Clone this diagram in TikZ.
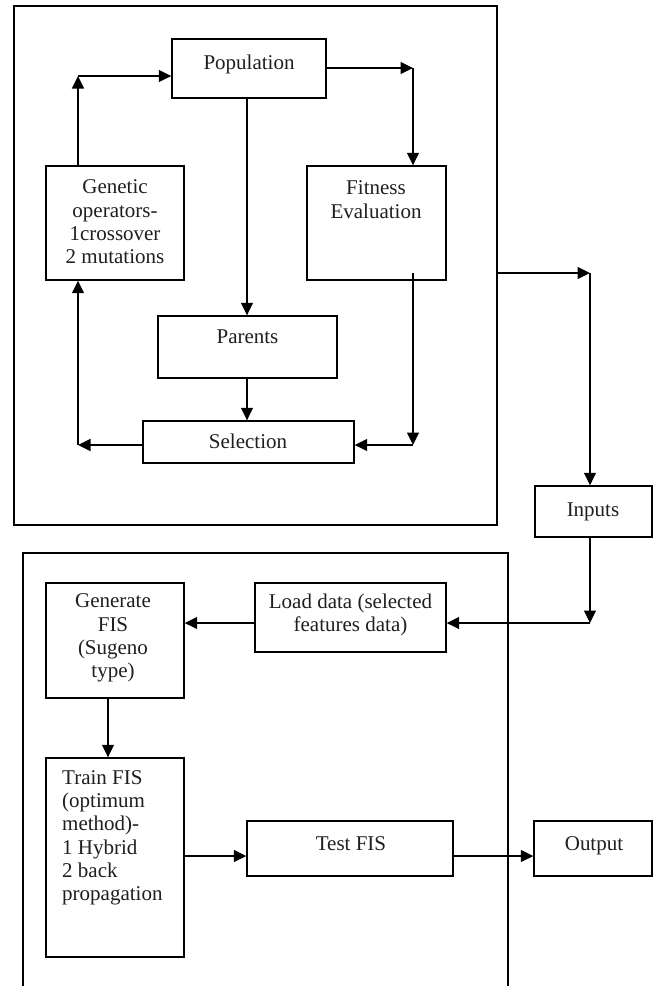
\documentclass[tikz,border=0pt]{standalone}
\usepackage{fontspec}
\setmainfont{Liberation Serif}
\usetikzlibrary{arrows.meta}
\begin{document}
\begin{tikzpicture}[x=1pt,y=-1pt,
  box/.style={draw, line width=1.4pt, rectangle, inner sep=0pt},
  lbl/.style={inner sep=0pt, font=\fontsize{21}{23.3}\selectfont, align=center, text=black!88},
  arr/.style={line width=1.4pt, -{Triangle[length=12.5pt,width=12pt]}},
  ln/.style={line width=1.4pt}]
\useasboundingbox (0,0) rectangle (655,986);
\fill[white] (0,0) rectangle (655,986);

% outer containers
\node[box, minimum width=483pt, minimum height=519pt] (outer1) at (255.5,265.5) {};
\draw[ln] (23,986) -- (23,553) -- (508,553) -- (508,986);

% boxes
\node[box, minimum width=154pt, minimum height=59pt]  (pop)    at (249,68.5) {};
\node[box, minimum width=138pt, minimum height=114pt] (gen)    at (115,223) {};
\node[box, minimum width=139pt, minimum height=114pt] (fit)    at (376.5,223) {};
\node[box, minimum width=179pt, minimum height=62pt]  (par)    at (247.5,347) {};
\node[box, minimum width=211pt, minimum height=42pt]  (sel)    at (248.5,442) {};
\node[box, minimum width=117pt, minimum height=51pt]  (inp)    at (593.5,511.5) {};
\node[box, minimum width=191pt, minimum height=69pt]  (load)   at (350.5,617.5) {};
\node[box, minimum width=138pt, minimum height=115pt] (genfis) at (115,640.5) {};
\node[box, minimum width=138pt, minimum height=199pt] (train)  at (115,857.5) {};
\node[box, minimum width=206pt, minimum height=55pt]  (test)   at (350,848.5) {};
\node[box, minimum width=118pt, minimum height=55pt]  (out)    at (593,848.5) {};

% labels
\node[lbl, anchor=base] (popt) at (249,69) {Population};
\node[lbl] (gent) at (115,222) {Genetic\\operators-\\1crossover\\2 mutations};
\node[lbl] (fitt) at (376,199.5) {Fitness\\Evaluation};
\node[lbl, anchor=base] (part) at (247.5,343) {Parents};
\node[lbl, anchor=base] (selt) at (248,448) {Selection};
\node[lbl, anchor=base] (inpt) at (593,516) {Inputs};
\node[lbl] (loadt) at (350.5,614.6) {Load data (selected\\features data)};
\node[lbl] (genfist) at (113,638) {Generate\\FIS\\(Sugeno\\type)};
\node[lbl, align=left, anchor=north west] (traint) at (62,770) {Train FIS\\(optimum\\method)-\\1 Hybrid\\2 back\\propagation};
\node[lbl, anchor=base] (testt) at (351,850) {Test FIS};
\node[lbl, anchor=base] (outt) at (594,850) {Output};

% helper coordinates
\coordinate (c1) at (78,76);
\coordinate (c2) at (413,68);
\coordinate (c3) at (78,445);
\coordinate (c4) at (413,273);
\coordinate (c5) at (413,445);
\coordinate (c6) at (590,273);
\coordinate (c7) at (590,623);
\coordinate (c8) at (108,0);
\coordinate (c9) at (0,856);
\coordinate (c10) at (247,0);

% connectors (genetic loop)
\draw[arr] (c1 |- gen.north) -- (c1);
\draw[arr] (c1) -- (pop.west |- c1);
\draw[arr] (pop.east |- c2) -- (c2);
\draw[arr] (c2) -- (c2 |- fit.north);
\draw[arr] (c10 |- pop.south) -- (c10 |- par.north);
\draw[arr] (c10 |- par.south) -- (c10 |- sel.north);
\draw[arr] (sel.west |- c3) -- (c3);
\draw[arr] (c3) -- (c3 |- gen.south);
\draw[arr] (c4) -- (c5);
\draw[arr] (c5) -- (sel.east |- c5);

% to inputs and FIS part
\draw[arr] (outer1.east |- c6) -- (c6);
\draw[arr] (c6) -- (c6 |- inp.north);
\draw[arr] (c7 |- inp.south) -- (c7);
\draw[arr] (c7) -- (load.east |- c7);
\draw[arr] (load.west |- c7) -- (genfis.east |- c7);
\draw[arr] (c8 |- genfis.south) -- (c8 |- train.north);
\draw[arr] (train.east |- c9) -- (test.west |- c9);
\draw[arr] (test.east |- c9) -- (out.west |- c9);
\end{tikzpicture}
\end{document}
